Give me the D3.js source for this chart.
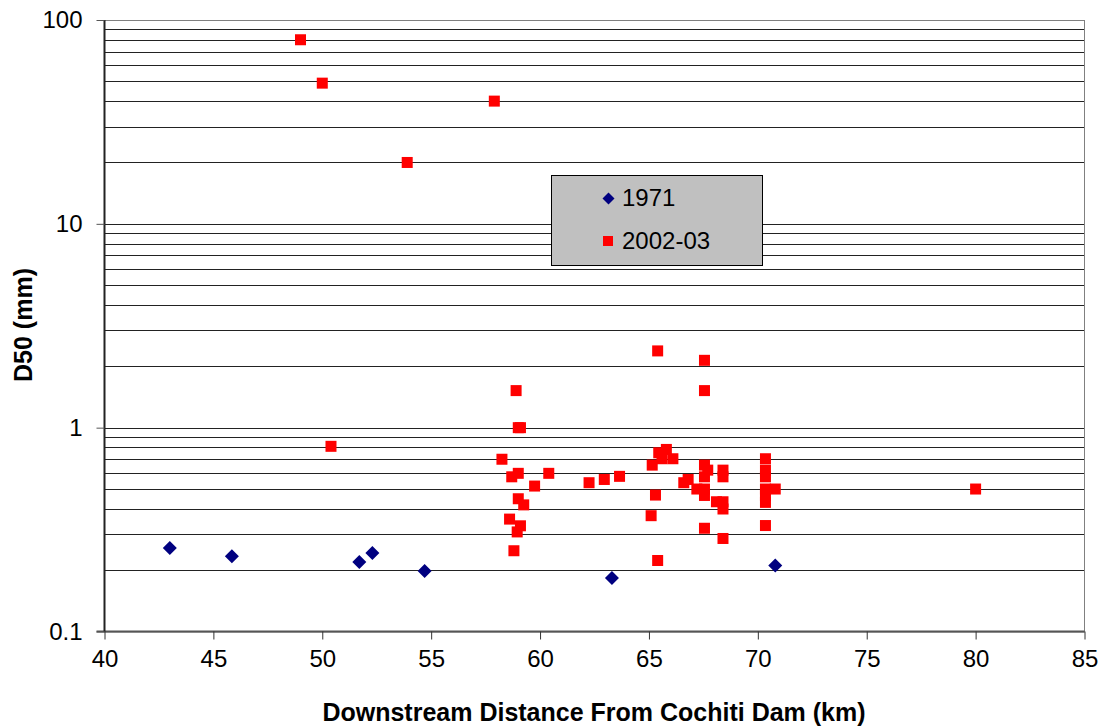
<!DOCTYPE html>
<html><head><meta charset="utf-8">
<script src="https://cdn.jsdelivr.net/npm/d3@7"></script>
<style>body{margin:0;background:#fff}svg{display:block;font-family:"Liberation Sans",Arial,sans-serif}</style>
</head><body><svg id="c" width="1103" height="727"></svg>
<script>
const x1971 = [43.0, 45.85, 51.7, 52.3, 54.7, 63.3, 70.8];
const y1971 = [0.257, 0.234, 0.219, 0.243, 0.198, 0.183, 0.211];
const x2002 = [49.0, 50.0, 53.9, 57.9, 50.4, 58.9, 59.0, 59.1, 58.25, 58.7, 59.0, 60.4, 59.75, 59.0, 59.25, 58.6, 59.1, 58.95, 58.8,
  62.25, 62.95, 63.65, 65.4, 65.4, 65.15, 65.1, 65.3, 65.45, 65.8, 65.6, 66.1,
  67.55, 67.55, 67.55, 67.7, 67.55, 66.8, 66.6, 67.2, 67.55, 67.55, 68.4, 68.4, 68.1, 68.4, 68.4, 67.55, 68.4,
  70.35, 70.35, 70.35, 70.35, 70.8, 70.35, 70.35, 70.35, 80.0];
const y2002 = [80, 49, 20, 40, 0.81, 1.52, 1.0, 1.0, 0.70, 0.574, 0.597, 0.597, 0.517, 0.448, 0.418, 0.356, 0.33, 0.308, 0.249,
  0.537, 0.557, 0.577, 2.38, 0.223, 0.655, 0.37, 0.467, 0.753, 0.782, 0.704, 0.704,
  2.14, 1.52, 0.655, 0.619, 0.574, 0.557, 0.537, 0.50, 0.50, 0.465, 0.619, 0.574, 0.433, 0.433, 0.399, 0.321, 0.286,
  0.704, 0.619, 0.574, 0.50, 0.50, 0.465, 0.43, 0.331, 0.50];
const xTicks = [40, 45, 50, 55, 60, 65, 70, 75, 80, 85];
const yTicks = [0.1, 1, 10, 100];
const seriesNames = ["1971", "2002-03"];
const xTitle = "Downstream Distance From Cochiti Dam (km)";
const yTitle = "D50 (mm)";

const svg = d3.select("#c");
const L = 104.5, R = 1084.5, T = 20, B = 631.5;
const x = d3.scaleLinear().domain([40, 85]).range([L, R]);
const y = d3.scaleLog().domain([0.1, 100]).range([B, T]);

// gridlines (major + minor)
const grid = [];
for (let d = 0.1; d < 100; d *= 10) for (let k = 1; k <= 10; k++) grid.push(+(d * k).toPrecision(3));
const gridSet = Array.from(new Set(grid)).filter(v => v > 0.1 && v < 100);
svg.append("g").selectAll("line").data(gridSet).join("line")
  .attr("x1", L).attr("x2", R)
  .attr("y1", d => Math.round(y(d)) + 0.5).attr("y2", d => Math.round(y(d)) + 0.5)
  .attr("stroke", "#222").attr("stroke-width", 1);

// plot area border (gray)
svg.append("rect").attr("x", L).attr("y", T + 0.5).attr("width", R - L).attr("height", B - T)
  .attr("fill", "none").attr("stroke", "#808080").attr("stroke-width", 1);

// axes
const xAxis = d3.axisBottom(x).tickValues(xTicks).tickSize(8).tickPadding(10).tickFormat(d3.format("d"));
const gx = svg.append("g").attr("transform", `translate(0,${B})`).call(xAxis);
gx.select(".domain").attr("stroke", "#555").attr("stroke-width", 2).attr("d", `M${L - 8},0H${R}`);
gx.selectAll(".tick line").attr("stroke", "#333");
gx.selectAll("text").attr("font-size", 24).attr("fill", "#000").attr("font-family", "Liberation Sans, Arial, sans-serif");

const yAxis = d3.axisLeft(y).tickValues(yTicks).tickSize(8).tickPadding(14).tickFormat(d => d3.format("")(d));
const gy = svg.append("g").attr("transform", `translate(${L},0)`).call(yAxis);
gy.select(".domain").attr("stroke", "#222").attr("stroke-width", 2).attr("d", `M0,${T}V${B}`);
gy.selectAll(".tick line").attr("stroke", "#555");
gy.selectAll("text").attr("font-size", 24).attr("fill", "#000").attr("font-family", "Liberation Sans, Arial, sans-serif");

// points
const d71 = x1971.map((v, i) => [v, y1971[i]]);
const d02 = x2002.map((v, i) => [v, y2002[i]]);
svg.append("g").selectAll("rect").data(d02).join("rect")
  .attr("x", d => x(d[0]) - 5.5).attr("y", d => y(d[1]) - 5.5)
  .attr("width", 11).attr("height", 11).attr("fill", "#ff0000");
const diamond = "M0,-7L7,0L0,7L-7,0Z";
svg.append("g").selectAll("path").data(d71).join("path")
  .attr("transform", d => `translate(${x(d[0])},${y(d[1])})`)
  .attr("d", diamond).attr("fill", "#000080");

// legend
const lg = svg.append("g");
lg.append("rect").attr("x", 551.5).attr("y", 175.5).attr("width", 211).attr("height", 90)
  .attr("fill", "#c0c0c0").attr("stroke", "#000").attr("stroke-width", 1);
lg.append("path").attr("transform", "translate(608.5,198.5)").attr("d", "M0,-6L6,0L0,6L-6,0Z").attr("fill", "#000080");
lg.append("rect").attr("x", 603).attr("y", 236).attr("width", 10).attr("height", 10).attr("fill", "#ff0000");
lg.append("text").attr("x", 622).attr("y", 206).attr("font-size", 24).text(seriesNames[0]);
lg.append("text").attr("x", 622).attr("y", 249).attr("font-size", 24).text(seriesNames[1]);

// titles
svg.append("text").attr("x", 594).attr("y", 721).attr("text-anchor", "middle")
  .attr("font-size", 25).attr("font-weight", "bold").text(xTitle);
svg.append("text").attr("transform", `translate(32,325) rotate(-90)`).attr("text-anchor", "middle")
  .attr("font-size", 25).attr("font-weight", "bold").text(yTitle);
</script></body></html>
